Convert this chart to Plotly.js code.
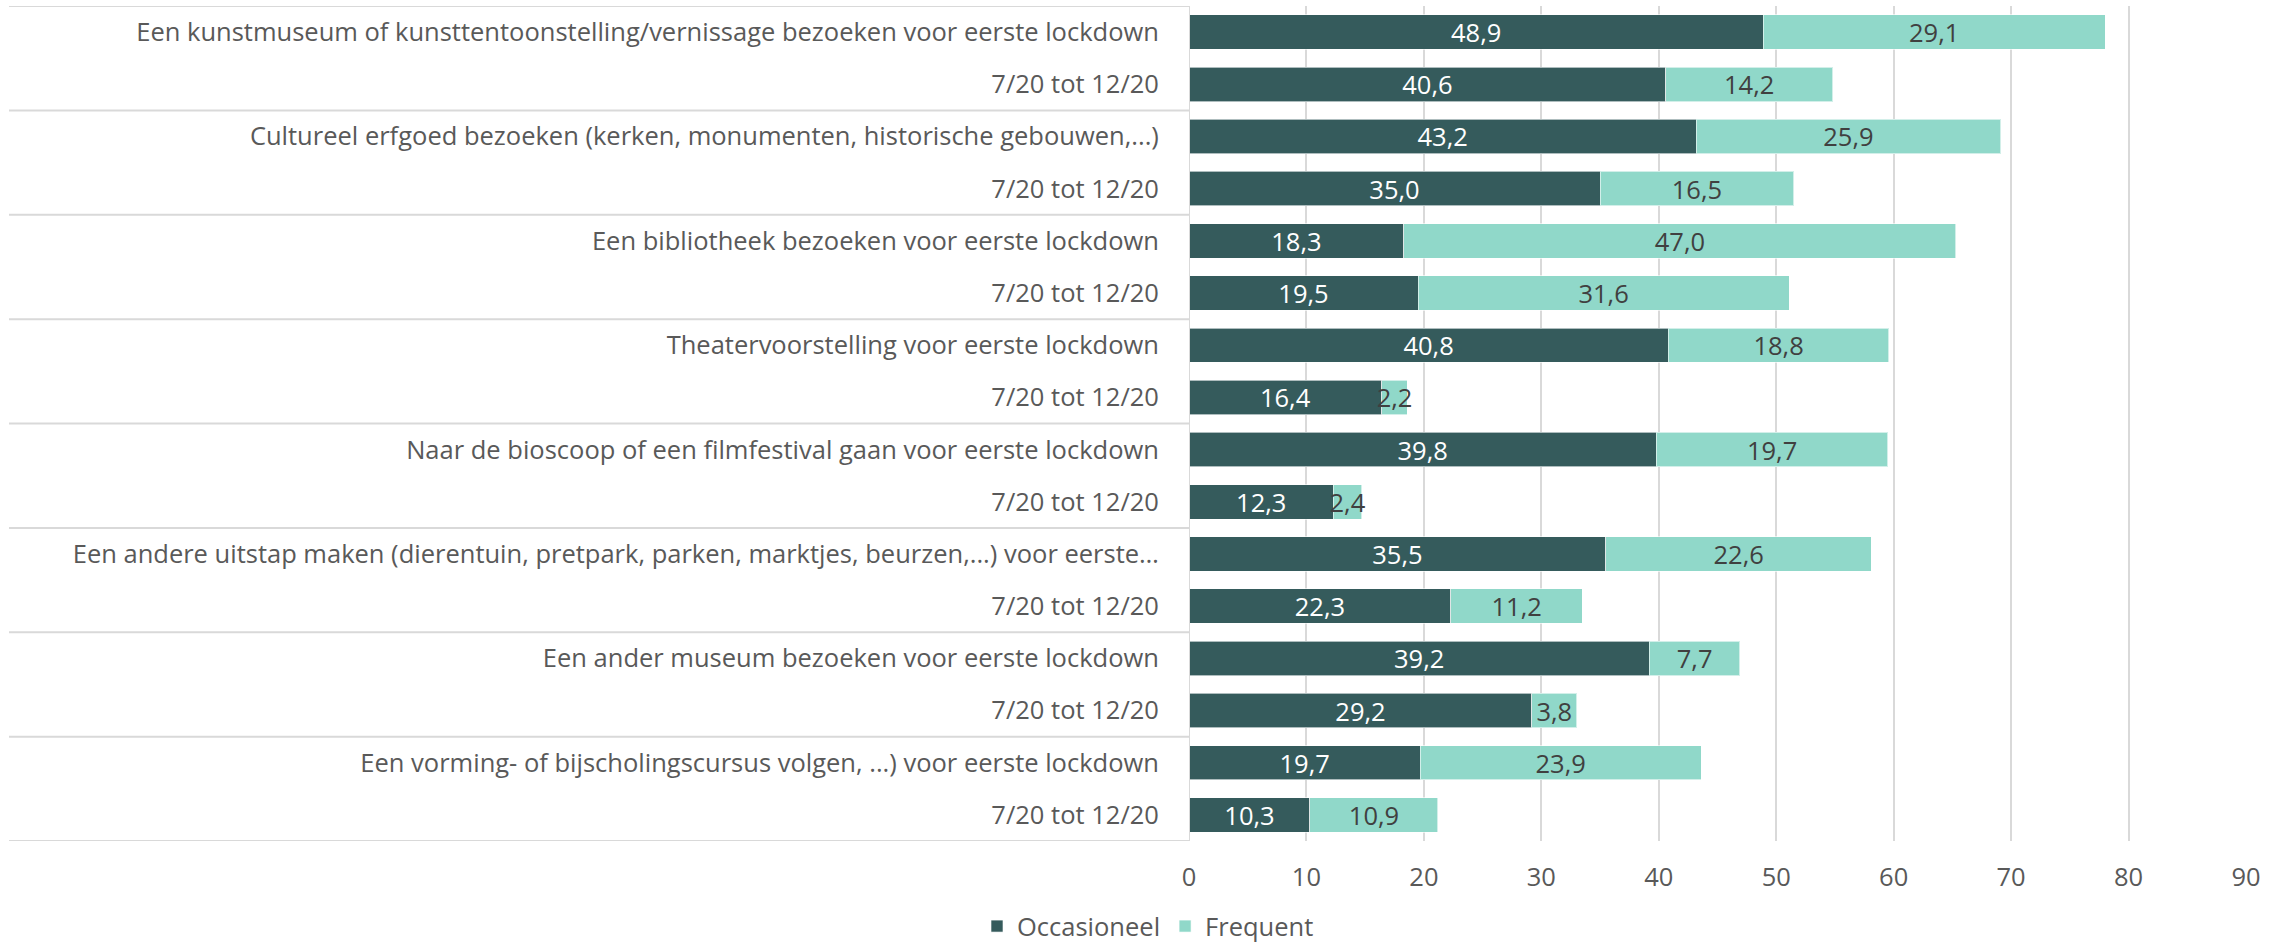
<!DOCTYPE html>
<html>
<head>
<meta charset="utf-8">
<script src="https://cdn.plot.ly/plotly-3.0.1.min.js"></script>
<style>
  html, body { margin: 0; padding: 0; background: #ffffff; }
  #chart { width: 2287px; height: 951px; }
</style>
</head>
<body>
<div id="chart"></div>
<script>
const categories = [
  "Een kunstmuseum of kunsttentoonstelling/vernissage bezoeken voor eerste lockdown",
  "7/20 tot 12/20",
  "Cultureel erfgoed bezoeken (kerken, monumenten, historische gebouwen,...)",
  "7/20 tot 12/20",
  "Een bibliotheek bezoeken voor eerste lockdown",
  "7/20 tot 12/20",
  "Theatervoorstelling voor eerste lockdown",
  "7/20 tot 12/20",
  "Naar de bioscoop of een filmfestival gaan voor eerste lockdown",
  "7/20 tot 12/20",
  "Een andere uitstap maken (dierentuin, pretpark, parken, marktjes, beurzen,...) voor eerste\u2026",
  "7/20 tot 12/20",
  "Een ander museum bezoeken voor eerste lockdown",
  "7/20 tot 12/20",
  "Een vorming- of bijscholingscursus volgen, ...) voor eerste lockdown",
  "7/20 tot 12/20"
];
const occasioneel = [48.9, 40.6, 43.2, 35.0, 18.3, 19.5, 40.8, 16.4, 39.8, 12.3, 35.5, 22.3, 39.2, 29.2, 19.7, 10.3];
const frequent    = [29.1, 14.2, 25.9, 16.5, 47.0, 31.6, 18.8, 2.2, 19.7, 2.4, 22.6, 11.2, 7.7, 3.8, 23.9, 10.9];
const xTicks = [0, 10, 20, 30, 40, 50, 60, 70, 80, 90];
const seriesNames = ["Occasioneel", "Frequent"];

const FONT = "'Open Sans', sans-serif";
const FS = 25.5;
const pos = categories.map((c, i) => i);
const fmt = v => v.toFixed(1).replace('.', ',');

const traces = [
  {
    type: 'bar', orientation: 'h', name: seriesNames[0],
    y: pos, x: occasioneel,
    text: occasioneel.map(fmt), textposition: 'inside', insidetextanchor: 'middle', textangle: 0,
    textfont: {family: FONT, size: FS, color: '#ffffff'},
    marker: {color: '#355b5c', line: {color: 'rgba(255,255,255,0.6)', width: 1}},
    hoverinfo: 'x', cliponaxis: false
  },
  {
    type: 'bar', orientation: 'h', name: seriesNames[1],
    y: pos, x: frequent,
    text: frequent.map(fmt), textposition: 'inside', insidetextanchor: 'middle', textangle: 0,
    textfont: {family: FONT, size: FS, color: '#404040'},
    marker: {color: '#90d8c9', line: {color: 'rgba(255,255,255,0.6)', width: 1}},
    hoverinfo: 'x', cliponaxis: false
  }
];

const shapes = [];
const L = 1189, R = 2246, T = 6, B = 841;
const sepX0 = (9 - L) / (R - L);
for (let k = 0; k <= categories.length; k += 2) {
  shapes.push({type: 'line', xref: 'paper', yref: 'y', x0: sepX0, x1: 0, y0: k - 0.5, y1: k - 0.5,
    line: {color: '#d9d9d9', width: 2}});
}
shapes.push({type: 'line', xref: 'x', yref: 'y', x0: 0, x1: 0, y0: -0.5, y1: categories.length - 0.5,
  line: {color: '#d9d9d9', width: 2}});

const layout = {
  width: 2287, height: 951,
  margin: {l: L, r: 2287 - R, t: T, b: 951 - B, autoexpand: false},
  paper_bgcolor: '#ffffff', plot_bgcolor: '#ffffff',
  barmode: 'stack', bargap: 0.34,
  font: {family: FONT, size: FS, color: '#595959'},
  uniformtext: {mode: 'show', minsize: FS},
  showlegend: true,
  legend: {orientation: 'h', xref: 'paper', yref: 'paper',
    x: (1148 - L) / (R - L), xanchor: 'center',
    y: (B - 950) / (B - T), yanchor: 'bottom',
    font: {family: FONT, size: FS, color: '#595959'},
    itemwidth: 30, traceorder: 'normal', bgcolor: 'rgba(0,0,0,0)'},
  xaxis: {
    range: [0, 90], tickvals: xTicks, ticktext: xTicks.map(String),
    showgrid: true, gridcolor: '#d9d9d9', gridwidth: 2, zeroline: false, showline: false,
    ticks: 'outside', ticklen: 13, tickcolor: 'rgba(0,0,0,0)',
    tickfont: {family: FONT, size: FS, color: '#595959'}, fixedrange: true
  },
  yaxis: {
    range: [categories.length - 0.5, -0.5], tickvals: pos, ticktext: categories,
    showgrid: false, zeroline: false, showline: false,
    ticks: 'outside', ticklen: 24, tickcolor: 'rgba(0,0,0,0)',
    tickfont: {family: FONT, size: FS, color: '#595959'}, fixedrange: true
  },
  shapes: shapes
};

Plotly.newPlot('chart', traces, layout, {displayModeBar: false, staticPlot: true});
</script>
</body>
</html>
